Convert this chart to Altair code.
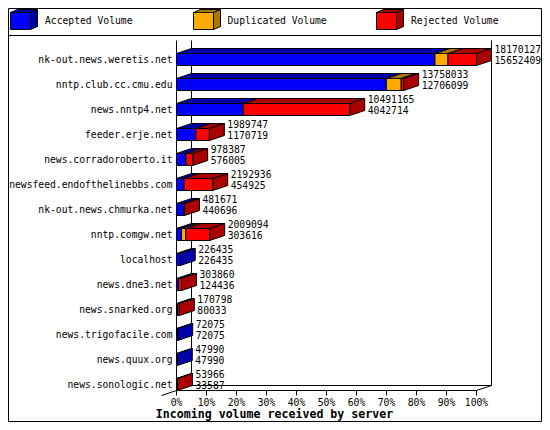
import altair as alt
import pandas as pd

servers = ["nk-out.news.weretis.net", "nntp.club.cc.cmu.edu", "news.nntp4.net", "feeder.erje.net",
           "news.corradoroberto.it", "newsfeed.endofthelinebbs.com", "nk-out.news.chmurka.net",
           "nntp.comgw.net", "localhost", "news.dne3.net", "news.snarked.org", "news.trigofacile.com",
           "news.quux.org", "news.sonologic.net"]
totals = [18170127, 13758033, 10491165, 1989747, 978387, 2192936, 481671, 2009094, 226435, 303860, 170798, 72075, 47990, 53966]
accepted = [15652409, 12706099, 4042714, 1170719, 576005, 454925, 440696, 303616, 226435, 124436, 80033, 72075, 47990, 33587]
duplicated = [791000, 903000, 0, 0, 0, 0, 0, 258000, 0, 0, 0, 0, 0, 0]
series_names = ["Accepted Volume", "Duplicated Volume", "Rejected Volume"]
bright = ["#0000ff", "#ffaa00", "#ff0000"]
dark = ["#0000aa", "#aa7700", "#aa0000"]
ticks = list(range(0, 101, 10))
axis_title = "Incoming volume received by server"

# layout of the picture (page pixels) -> data units
X0, XK, Y0, YK = 176.5, 3.0, 59.5, 25.0
LEFT, RIGHT, TOP, BOTTOM = 8.0, 542.0, 8.0, 422.0
def vx(p): return (p - X0) / XK
def vy(p): return (p - Y0) / YK
DX, DY, HALF = 15 / XK, 5 / YK, 6 / YK
MAXV = max(totals)

fronts, tops, sides = [], [], []
def add_cuboid(k, key, x0, x1, yt, yb, dx, dy, side):
    fronts.append(dict(s=key, x=x0, x2=x1, y=yt, y2=yb))
    for xa, xb, yy in [(x0, x1, yt), (x0 + dx, x1 + dx, yt - dy)]:
        tops.append(dict(g=k, s=key + " dark", x=xa, x2=xb, y=yy))
    if side:
        for xx, d in [(x1, 0), (x1 + dx, dy)]:
            sides.append(dict(g=k, s=key + " dark", x=xx, y=yt - d, y2=yb - d))

labels, k = [], 0
for r, (name, t, a, d) in enumerate(zip(servers, totals, accepted, duplicated)):
    parts = [(series_names[0], a), (series_names[1], d), (series_names[2], t - a - d)]
    parts = [p for p in parts if p[1] > 0]
    c = 0
    for j, (key, v) in enumerate(parts):
        x0 = c / MAXV * 100
        c += v
        add_cuboid(k, key, x0, c / MAXV * 100, r - HALF, r + HALF, DX, DY, j == len(parts) - 1)
        k += 1
    labels.append(dict(name=name, r=r, x0=0, xend=t / MAXV * 100 + DX, top=str(t), low=str(a),
                       r1=r - 9.5 / YK, r2=r + 1.5 / YK))

# legend boxes
legend_x = [(10.5, 30.5), (193.5, 213.5), (376.5, 396.5)]
legend_text = [45, 227.5, 411]
leg_txt = []
for i, name in enumerate(series_names):
    a, b = legend_x[i]
    add_cuboid(k, name, vx(a), vx(b), vy(12.5), vy(29.5), 7 / XK, 3 / YK, True)
    k += 1
    leg_txt.append(dict(t=name, x=vx(legend_text[i]), y=vy(20.5)))

ax_f, ax_b, ax_top, ax_r = 13 + HALF, 13 + HALF - DY, vy(40.5), 100 + DX
rules = [
    (0, 0, ax_top, ax_f), (DX, DX, ax_top, ax_b), (ax_r, ax_r, ax_top, ax_b),
    (DX, ax_r, ax_b, ax_b), (0, 100, ax_f, ax_f), (100, ax_r, ax_f, ax_b), (-DX, 0, ax_f + DY, ax_f),
    (vx(LEFT + 0.5), vx(RIGHT - 0.5), vy(35.5), vy(35.5)),
]
rules = pd.DataFrame(rules, columns=["x", "x2", "y", "y2"])
tickdf = pd.DataFrame(dict(x=ticks, y=ax_f, y2=ax_f + DY, y3=vy(402.5), t=[f"{v}%" for v in ticks]))
lab = pd.DataFrame(labels)

xs = alt.Scale(domain=[vx(LEFT), vx(RIGHT)], range=[0, RIGHT - LEFT], nice=False, zero=False)
ys = alt.Scale(domain=[vy(TOP), vy(BOTTOM)], range=[0, BOTTOM - TOP], nice=False, zero=False)
X = lambda f: alt.X(f, type="quantitative", scale=xs, axis=None)
Y = lambda f: alt.Y(f, type="quantitative", scale=ys, axis=None)
color = alt.Color("s:N", legend=None, scale=alt.Scale(
    domain=series_names + [n + " dark" for n in series_names], range=bright + dark))
MONO, SIZE = "DejaVu Sans Mono", 9.7

framedf = pd.DataFrame([dict(x=vx(LEFT + 0.5), x2=vx(RIGHT - 0.5), y=vy(TOP + 0.5), y2=vy(BOTTOM - 0.5))])
frame = alt.Chart(framedf).mark_rect(fill="white", stroke="black", strokeWidth=1).encode(
    x=X("x"), x2="x2", y=Y("y"), y2="y2")
lines = alt.Chart(rules).mark_rule(color="black", strokeWidth=1).encode(x=X("x"), x2="x2", y=Y("y"), y2="y2")
tick_rules = alt.Chart(tickdf).mark_rule(color="black", strokeWidth=1).encode(x=X("x"), y=Y("y"), y2="y2")
tick_text = alt.Chart(tickdf).mark_text(font=MONO, fontSize=SIZE, color="black").encode(x=X("x"), y=Y("y3"), text="t")
top_faces = alt.Chart(pd.DataFrame(tops)).mark_area(orient="horizontal", stroke="black", strokeWidth=1).encode(
    y=Y("y"), x=X("x"), x2="x2", color=color, detail="g:N")
side_faces = alt.Chart(pd.DataFrame(sides)).mark_area(orient="vertical", stroke="black", strokeWidth=1).encode(
    x=X("x"), y=Y("y"), y2="y2", color=color, detail="g:N")
front_faces = alt.Chart(pd.DataFrame(fronts)).mark_rect(stroke="black", strokeWidth=1).encode(
    x=X("x"), x2="x2", y=Y("y"), y2="y2", color=color)
names = alt.Chart(lab).mark_text(font=MONO, fontSize=SIZE, align="right", color="black", dx=-4).encode(
    x=X("x0"), y=Y("r"), text="name")
t1 = alt.Chart(lab).mark_text(font=MONO, fontSize=SIZE, align="left", color="black", dx=3).encode(x=X("xend"), y=Y("r1"), text="top")
t2 = alt.Chart(lab).mark_text(font=MONO, fontSize=SIZE, align="left", color="black", dx=3).encode(x=X("xend"), y=Y("r2"), text="low")
leg = alt.Chart(pd.DataFrame(leg_txt)).mark_text(font=MONO, fontSize=SIZE, align="left", color="black").encode(x=X("x"), y=Y("y"), text="t")
title = alt.Chart(pd.DataFrame([dict(t=axis_title, x=vx(274.5), y=vy(414.5))])).mark_text(
    font=MONO, fontSize=11.6, fontWeight="bold", color="black").encode(x=X("x"), y=Y("y"), text="t")

chart = alt.layer(frame, lines, tick_rules, top_faces, side_faces, front_faces, names, t1, t2, tick_text, leg, title).properties(
    width=RIGHT - LEFT, height=BOTTOM - TOP, padding=0, autosize=alt.AutoSizeParams(type="none")
).configure_view(stroke=None)
chart.save("out.html", embed_options={"renderer": "svg", "actions": False})
